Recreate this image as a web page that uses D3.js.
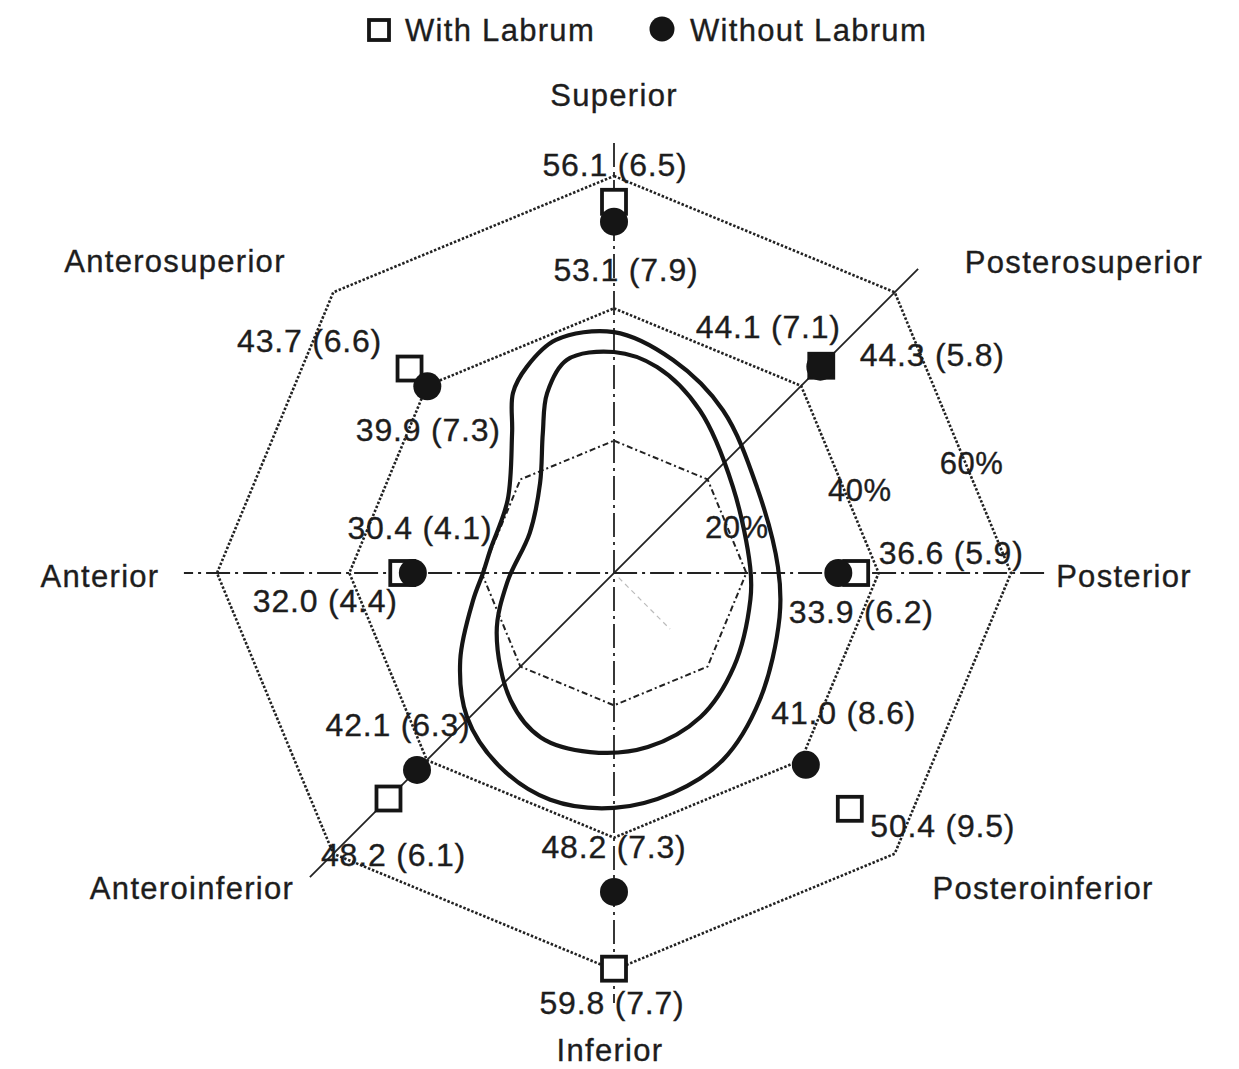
<!DOCTYPE html>
<html>
<head>
<meta charset="utf-8">
<script src="https://cdn.jsdelivr.net/npm/d3@7"></script>
<style>
  body { margin: 0; background: #fff; }
  text { font-family: "Liberation Sans", Arial, Helvetica, sans-serif; fill: #1d1d1d; stroke: #1d1d1d; stroke-width: 0.35px; }
</style>
</head>
<body>
<svg id="chart"></svg>
<script>
// regions clockwise from the top
const regions = ["Superior", "Posterosuperior", "Posterior", "Posteroinferior",
                 "Inferior", "Anteroinferior", "Anterior", "Anterosuperior"];
const withLabrum      = [56.1, 44.3, 36.6, 50.4, 59.8, 48.2, 32.0, 43.7];
const withLabrumSD    = [6.5, 5.8, 5.9, 9.5, 7.7, 6.1, 4.4, 6.6];
const withoutLabrum   = [53.1, 44.1, 33.9, 41.0, 48.2, 42.1, 30.4, 39.9];
const withoutLabrumSD = [7.9, 7.1, 6.2, 8.6, 7.3, 6.3, 4.1, 7.3];
const gridLevels = [20, 40, 60];
const gridLabels = ["20%", "40%", "60%"];

// glenoid outlines as [angle in degrees, radius in %]
const outerRim = [[0, 36.4], [15.5, 33.4], [33.8, 29.6], [59, 25.2], [88, 24.8], [105, 25.9],
                  [131, 29.2], [149.8, 32.7], [165, 34.4], [180, 35.5], [195.7, 35.6], [210.4, 34],
                  [225.6, 31.1], [240.5, 26.7], [259, 21.7], [270, 19.8], [281, 19], [304.5, 19.5],
                  [324, 26.2], [330.7, 31.2], [337, 33.8], [346, 36.3]];
const innerRim = [[0, 33.4], [11.8, 31.8], [27.8, 27.8], [54, 22.2], [87.5, 20.6], [101, 21],
                  [128, 23], [149, 25.4], [169, 26.8], [187.6, 27.3], [204, 27.2], [219, 24.8],
                  [243, 19.9], [265, 16.2], [295.5, 14.1], [320.6, 17.6], [333, 23.7], [339.6, 29],
                  [347.6, 33]];

const width = 1239, height = 1069;
const cx = 614, cy = 573;

// label layout (pixel offsets)
const withOffsets    = [[1, -37], [111, -11], [95, -20], [93, 17], [-2, 34], [5, 56], [-77, 28], [-100, -28]];
const withoutOffsets = [[12, 48], [-52, -40], [23, 39], [38, -52], [0, -45], [-19, -45], [7, -45], [1, 44]];
const namePos = [[0, -478], [470, -311], [510, 3], [429, 315], [-4, 477], [-422, 315], [-514, 3], [-439, -312]];
const gridLabelPolar = [[69.5, 19.8], [71.4, 39.2], [73, 56.5]];

const svg = d3.select("#chart").attr("width", width).attr("height", height);
const g = svg.append("g").attr("transform", `translate(${cx},${cy})`);

const r = d3.scaleLinear().domain([0, 60]).range([0, 397]);
const angle = d3.scaleLinear().domain([0, regions.length]).range([0, 2 * Math.PI]);
const rad = deg => deg * Math.PI / 180;
const px = (i, v) => r(v) * Math.sin(angle(i));
const py = (i, v) => -r(v) * Math.cos(angle(i));

// octagon grid
const octagon = d3.lineRadial()
    .angle((d, i) => angle(i))
    .radius(d => r(d))
    .curve(d3.curveLinearClosed);

g.selectAll(".grid")
    .data(gridLevels)
    .enter().append("path")
    .attr("class", "grid")
    .attr("d", lvl => octagon(regions.map(() => lvl)))
    .attr("fill", "none")
    .attr("stroke", "#222")
    .attr("stroke-width", (d, i) => i === 0 ? 2 : 2.6)
    .attr("stroke-dasharray", (d, i) => i === 0 ? "6,3,2,3" : "2.5,1.8");

// axes: vertical and horizontal dash-dot, diagonal solid
const axisEnd = 65;
[0, 2].forEach(i => {
    g.append("line")
        .attr("x1", px(i, axisEnd)).attr("y1", py(i, axisEnd))
        .attr("x2", px(i + 4, axisEnd)).attr("y2", py(i + 4, axisEnd))
        .attr("stroke", "#222")
        .attr("stroke-width", 1.8)
        .attr("stroke-dasharray", "24,5,3,5");
});
g.append("line")
    .attr("x1", px(1, axisEnd)).attr("y1", py(1, axisEnd))
    .attr("x2", px(5, axisEnd)).attr("y2", py(5, axisEnd))
    .attr("stroke", "#222")
    .attr("stroke-width", 1.8);
g.append("line")
    .attr("x1", px(3, 1)).attr("y1", py(3, 1))
    .attr("x2", px(3, 12)).attr("y2", py(3, 12))
    .attr("stroke", "#bbb")
    .attr("stroke-width", 1.2)
    .attr("stroke-dasharray", "5,4");

// glenoid outlines
const rim = d3.lineRadial()
    .angle(d => rad(d[0]))
    .radius(d => r(d[1]))
    .curve(d3.curveCatmullRomClosed.alpha(0.5));

g.selectAll(".rim")
    .data([outerRim, innerRim])
    .enter().append("path")
    .attr("class", "rim")
    .attr("d", rim)
    .attr("fill", "none")
    .attr("stroke", "#151515")
    .attr("stroke-width", 4.2);

// markers: squares (with labrum) under circles (without labrum)
const sq = 24;
g.selectAll(".with")
    .data(withLabrum)
    .enter().append("rect")
    .attr("class", "with")
    .attr("x", (d, i) => px(i, d) - sq / 2)
    .attr("y", (d, i) => py(i, d) - sq / 2)
    .attr("width", sq).attr("height", sq)
    .attr("fill", (d, i) => Math.abs(d - withoutLabrum[i]) < 1 ? "#151515" : "#fff")
    .attr("stroke", "#151515")
    .attr("stroke-width", 3.8);

g.selectAll(".without")
    .data(withoutLabrum)
    .enter().append("circle")
    .attr("class", "without")
    .attr("cx", (d, i) => px(i, d))
    .attr("cy", (d, i) => py(i, d))
    .attr("r", 14)
    .attr("fill", "#151515");

// value labels
const fmt = d3.format(".1f");
function valueLabels(vals, sds, offs, cls) {
    g.selectAll("." + cls)
        .data(vals)
        .enter().append("text")
        .attr("class", cls)
        .attr("x", (d, i) => px(i, d) + offs[i][0])
        .attr("y", (d, i) => py(i, d) + offs[i][1])
        .attr("text-anchor", "middle")
        .attr("dominant-baseline", "central")
        .attr("font-size", "32px")
        .attr("letter-spacing", "0.8px")
        .text((d, i) => `${fmt(d)} (${fmt(sds[i])})`);
}
valueLabels(withLabrum, withLabrumSD, withOffsets, "withLabel");
valueLabels(withoutLabrum, withoutLabrumSD, withoutOffsets, "withoutLabel");

// region names
g.selectAll(".region")
    .data(regions)
    .enter().append("text")
    .attr("class", "region")
    .attr("x", (d, i) => namePos[i][0])
    .attr("y", (d, i) => namePos[i][1])
    .attr("text-anchor", "middle")
    .attr("dominant-baseline", "central")
    .attr("font-size", "31px")
    .attr("letter-spacing", "1.3px")
    .text(d => d);

// grid level labels
g.selectAll(".gridLabel")
    .data(gridLabels)
    .enter().append("text")
    .attr("class", "gridLabel")
    .attr("x", (d, i) => r(gridLabelPolar[i][1]) * Math.sin(rad(gridLabelPolar[i][0])))
    .attr("y", (d, i) => -r(gridLabelPolar[i][1]) * Math.cos(rad(gridLabelPolar[i][0])))
    .attr("text-anchor", "middle")
    .attr("dominant-baseline", "central")
    .attr("font-size", "31px")
    .attr("letter-spacing", "0.5px")
    .text(d => d);

// legend
const legend = svg.append("g").attr("transform", "translate(0,30)");
legend.append("rect")
    .attr("x", 369).attr("y", -10).attr("width", 20).attr("height", 20)
    .attr("fill", "#fff").attr("stroke", "#151515").attr("stroke-width", 3.8);
legend.append("text")
    .attr("x", 405).attr("y", 0)
    .attr("dominant-baseline", "central")
    .attr("font-size", "31px").attr("letter-spacing", "1.3px")
    .text("With Labrum");
legend.append("circle")
    .attr("cx", 662).attr("cy", -1).attr("r", 12.5)
    .attr("fill", "#151515");
legend.append("text")
    .attr("x", 690).attr("y", 0)
    .attr("dominant-baseline", "central")
    .attr("font-size", "31px").attr("letter-spacing", "1.3px")
    .text("Without Labrum");
</script>
</body>
</html>
